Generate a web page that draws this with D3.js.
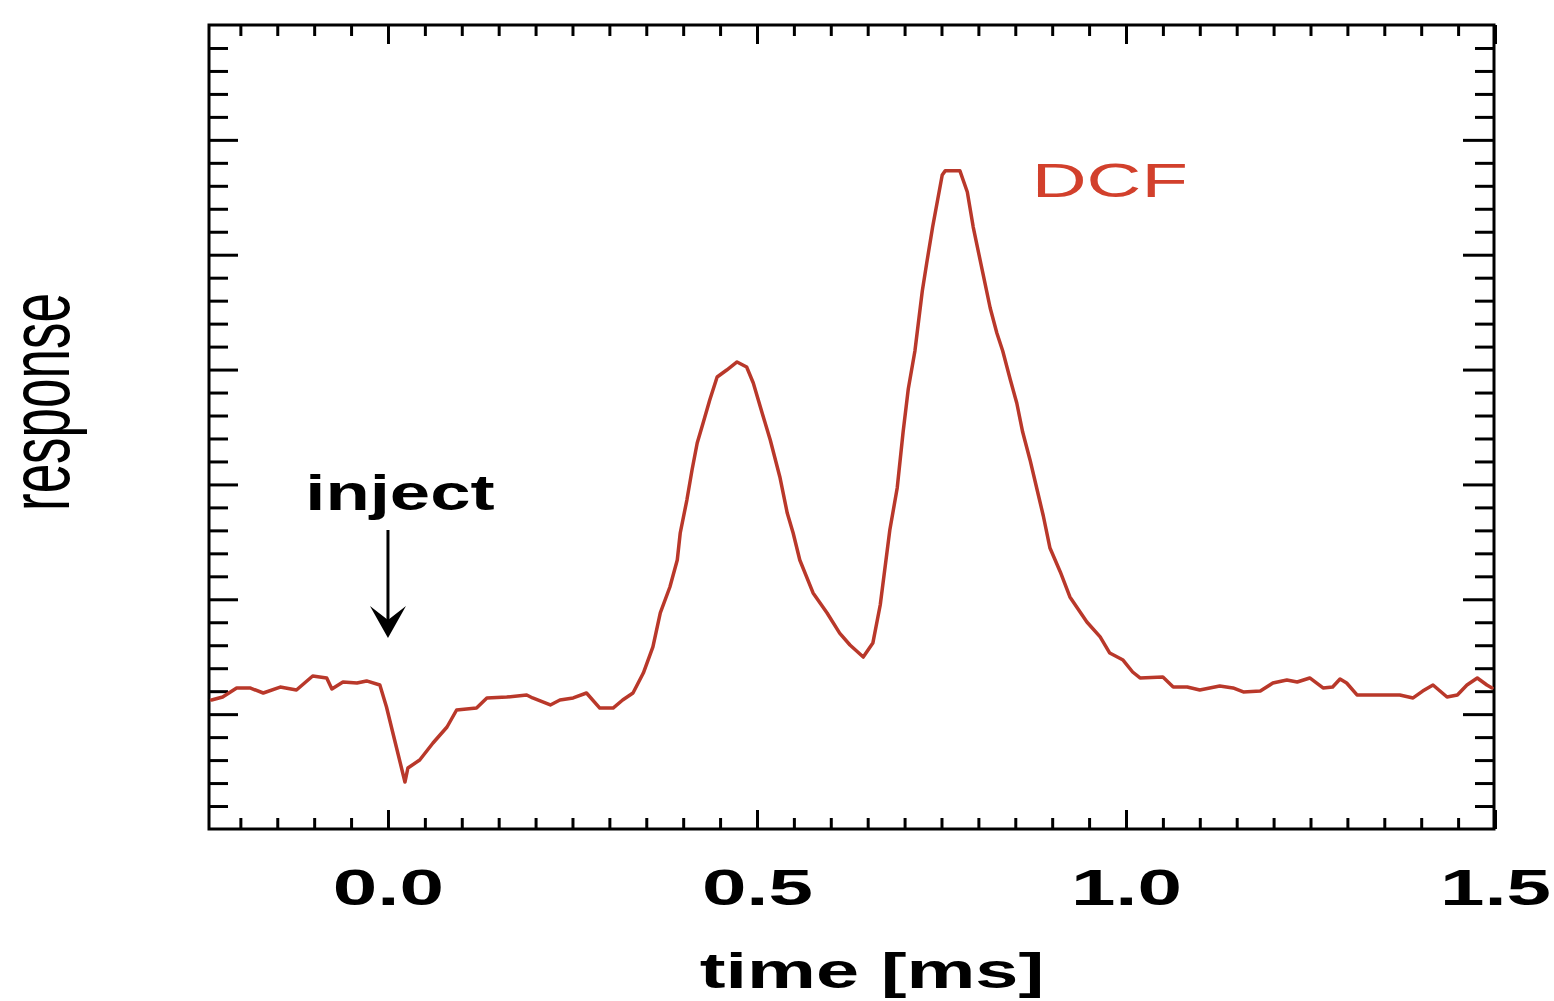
<!DOCTYPE html>
<html><head><meta charset="utf-8">
<script src="https://cdn.jsdelivr.net/npm/d3@7"></script>
<style>body{margin:0;background:#fff;overflow:hidden}</style>
</head><body>
<svg id="c" width="1554" height="1001"></svg>
<script>
// ---- data ----
const timeMs = [-0.239,-0.224,-0.205,-0.187,-0.169,-0.146,-0.124,-0.102,-0.083,-0.076,-0.061,-0.042,-0.029,-0.011,-0.002,0.009,0.019,0.023,0.027,0.043,0.061,0.080,0.093,0.120,0.134,0.161,0.188,0.196,0.220,0.233,0.251,0.269,0.287,0.305,0.318,0.332,0.346,0.359,0.369,0.382,0.392,0.396,0.405,0.412,0.419,0.427,0.436,0.446,0.459,0.473,0.486,0.495,0.507,0.518,0.531,0.541,0.549,0.558,0.576,0.595,0.612,0.626,0.644,0.657,0.667,0.680,0.690,0.698,0.705,0.714,0.724,0.730,0.738,0.751,0.755,0.775,0.785,0.793,0.806,0.816,0.825,0.833,0.843,0.852,0.860,0.870,0.879,0.888,0.897,0.911,0.924,0.947,0.965,0.978,0.996,1.009,1.019,1.050,1.064,1.083,1.100,1.127,1.145,1.159,1.182,1.199,1.218,1.232,1.249,1.267,1.280,1.290,1.299,1.313,1.340,1.371,1.389,1.402,1.416,1.435,1.449,1.462,1.476,1.489,1.496];
const response = [1.123,1.149,1.228,1.228,1.184,1.236,1.210,1.332,1.315,1.219,1.280,1.271,1.289,1.254,1.062,0.775,0.514,0.409,0.531,0.601,0.749,0.888,1.036,1.053,1.141,1.149,1.167,1.141,1.080,1.123,1.141,1.184,1.053,1.053,1.123,1.184,1.358,1.585,1.881,2.107,2.342,2.577,2.864,3.126,3.361,3.535,3.735,3.935,3.996,4.066,4.022,3.883,3.622,3.387,3.065,2.751,2.577,2.342,2.055,1.881,1.706,1.602,1.497,1.619,1.950,2.603,2.969,3.456,3.831,4.162,4.684,4.928,5.241,5.694,5.730,5.730,5.546,5.241,4.841,4.536,4.318,4.162,3.918,3.709,3.456,3.213,2.969,2.725,2.446,2.238,2.020,1.802,1.672,1.532,1.471,1.367,1.315,1.323,1.236,1.236,1.210,1.245,1.228,1.193,1.201,1.271,1.297,1.280,1.315,1.228,1.236,1.306,1.271,1.167,1.167,1.167,1.141,1.201,1.254,1.149,1.167,1.254,1.315,1.254,1.228];
const xMajorTicks = [0.0, 0.5, 1.0, 1.5];
const xTickLabels = ["0.0", "0.5", "1.0", "1.5"];
const xMinorTicks = [-0.20,-0.15,-0.10,-0.05,0.05,0.10,0.15,0.20,0.25,0.30,0.35,0.40,0.45,0.55,0.60,0.65,0.70,0.75,0.80,0.85,0.90,0.95,1.05,1.10,1.15,1.20,1.25,1.30,1.35,1.40,1.45];
const yMajorTicks = [1, 2, 3, 4, 5, 6];
const yMinorTicks = [0.2,0.4,0.6,0.8,1.2,1.4,1.6,1.8,2.2,2.4,2.6,2.8,3.2,3.4,3.6,3.8,4.2,4.4,4.6,4.8,5.2,5.4,5.6,5.8,6.2,6.4,6.6,6.8];
const xTitle = "time [ms]";
const yTitle = "response";
const seriesName = "DCF";
const injectLabel = "inject";
const injectTime = 0.0;

// ---- drawing ----
const svg = d3.select("#c");
const FONT = "'Liberation Sans', Arial, Helvetica, sans-serif";
const x = d3.scaleLinear().domain([-0.2425, 1.5]).range([209, 1495]);
const y = d3.scaleLinear().domain([0, 7]).range([829, 25]);
const [x0, x1] = x.range();
const [yb, yt] = y.range();

function styleAxis(g) {
  g.select(".domain").remove();
  g.selectAll(".tick line").attr("stroke", "#000").attr("stroke-width", 3);
}

// bottom
svg.append("g").attr("transform", `translate(0,${yb})`)
  .call(d3.axisBottom(x).tickValues(xMinorTicks).tickSize(-11).tickFormat(""))
  .call(styleAxis);
const bx = svg.append("g").attr("transform", `translate(0,${yb})`)
  .call(d3.axisBottom(x).tickValues(xMajorTicks).tickSize(-19).tickPadding(41)
        .tickFormat((d, i) => xTickLabels[i]))
  .call(styleAxis);
bx.selectAll(".tick text")
  .attr("font-family", FONT).attr("font-size", 50).attr("font-weight", "bold")
  .attr("fill", "#000").attr("transform", "scale(1.6,1)");
// top
svg.append("g").attr("transform", `translate(0,${yt})`)
  .call(d3.axisTop(x).tickValues(xMinorTicks).tickSize(-11).tickFormat(""))
  .call(styleAxis);
svg.append("g").attr("transform", `translate(0,${yt})`)
  .call(d3.axisTop(x).tickValues(xMajorTicks).tickSize(-19).tickFormat(""))
  .call(styleAxis);
// left
svg.append("g").attr("transform", `translate(${x0},0)`)
  .call(d3.axisLeft(y).tickValues(yMinorTicks).tickSize(-19).tickFormat(""))
  .call(styleAxis);
svg.append("g").attr("transform", `translate(${x0},0)`)
  .call(d3.axisLeft(y).tickValues(yMajorTicks).tickSize(-29).tickFormat(""))
  .call(styleAxis);
// right
svg.append("g").attr("transform", `translate(${x1 - 1},0)`)
  .call(d3.axisRight(y).tickValues(yMinorTicks).tickSize(-19).tickFormat(""))
  .call(styleAxis);
svg.append("g").attr("transform", `translate(${x1 - 1},0)`)
  .call(d3.axisRight(y).tickValues(yMajorTicks).tickSize(-31).tickFormat(""))
  .call(styleAxis);

// frame
svg.append("rect").attr("x", x0).attr("y", yt).attr("width", x1 - 1 - x0).attr("height", yb - yt)
  .attr("fill", "none").attr("stroke", "#000").attr("stroke-width", 3);

// series
const pts = timeMs.map((t, i) => [t, response[i]]);
svg.append("path").datum(pts)
  .attr("d", d3.line().x(d => x(d[0])).y(d => y(d[1])))
  .attr("fill", "none").attr("stroke", "#b9382a").attr("stroke-width", 3.5)
  .attr("stroke-linejoin", "round").attr("stroke-linecap", "round");

// series label
svg.append("text").attr("transform", `translate(${x(0.978)},${y(5.5)}) scale(1.55,1)`)
  .attr("text-anchor", "middle").attr("font-family", FONT).attr("font-size", 49)
  .attr("fill", "#d2402c").text(seriesName);

// inject annotation
const ax = x(injectTime);
svg.append("text").attr("transform", `translate(${ax + 12},510) scale(1.45,1)`)
  .attr("text-anchor", "middle").attr("font-family", FONT).attr("font-size", 50)
  .attr("font-weight", "bold").attr("fill", "#000").text(injectLabel);
svg.append("line").attr("x1", ax).attr("x2", ax).attr("y1", 530).attr("y2", 630)
  .attr("stroke", "#000").attr("stroke-width", 3);
svg.append("path")
  .attr("d", `M${ax - 18},606 L${ax},638 L${ax + 18},606 L${ax},620 Z`)
  .attr("fill", "#000");

// axis titles
svg.append("text").attr("transform", `translate(${(x0 + x1) / 2 + 20},988) scale(1.55,1)`)
  .attr("text-anchor", "middle").attr("font-family", FONT).attr("font-size", 50)
  .attr("font-weight", "bold").attr("fill", "#000").text(xTitle);
svg.append("text").attr("transform", `translate(69,402) scale(1.6,1) rotate(-90)`)
  .attr("text-anchor", "middle").attr("font-family", FONT).attr("font-size", 53)
  .attr("fill", "#000").text(yTitle);
</script>
</body></html>
